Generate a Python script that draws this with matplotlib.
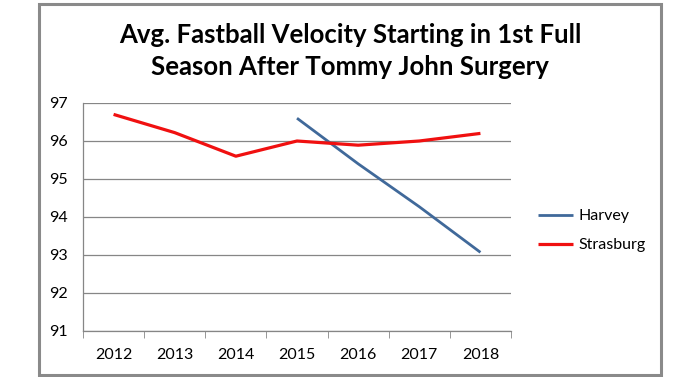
import matplotlib
matplotlib.use("Agg")
import matplotlib.pyplot as plt
from matplotlib.patches import Rectangle

years = ["2012", "2013", "2014", "2015", "2016", "2017", "2018"]
harvey_years = ["2015", "2016", "2017", "2018"]
harvey = [96.6, 95.4, 94.27, 93.07]
strasburg = [96.7, 96.22, 95.6, 96.0, 95.89, 96.0, 96.2]
yticks = [91, 92, 93, 94, 95, 96, 97]
title = "Avg. Fastball Velocity Starting in 1st Full\nSeason After Tommy John Surgery"

plt.rcParams['font.family'] = ['Lato', 'DejaVu Sans']

W, H = 700, 377
fig = plt.figure(figsize=(W/100, H/100), dpi=100)
fig.patch.set_facecolor('white')
fig.patches.append(Rectangle((39/W, 1-375/H), (661-39)/W, (375-4)/H, transform=fig.transFigure,
                             fill=False, edgecolor='#8a8a8a', linewidth=2.2, zorder=10))

ax = fig.add_axes([83/W, 1-331/H, (511-83)/W, (331-103)/H])
x = list(range(len(years)))
hx = [years.index(y) for y in harvey_years]
ax.plot(hx, harvey, color='#40699a', linewidth=2.0, label='Harvey', solid_capstyle='butt')
ax.plot(x, strasburg, color='#f01010', linewidth=2.3, label='Strasburg', solid_capstyle='butt')

ax.set_xlim(-0.5, len(years)-0.5)
ax.set_ylim(91, 97)
ax.set_yticks(yticks)
ax.set_yticklabels([str(v) for v in yticks], fontsize=11.5)
ax.set_xticks(x)
ax.set_xticklabels(years, fontsize=11.5)
ax.set_xticks([i-0.5 for i in range(len(years)+1)], minor=True)
ax.tick_params(axis='x', which='major', length=0, pad=12)
ax.tick_params(axis='x', which='minor', length=5, color='#868686', direction='out')
ax.tick_params(axis='y', which='major', length=0, pad=11)
ax.grid(axis='y', color='#868686', linewidth=0.9)
ax.set_axisbelow(True)
for s in ['top', 'right']:
    ax.spines[s].set_visible(False)
for s in ['left', 'bottom']:
    ax.spines[s].set_color('#868686')
    ax.spines[s].set_linewidth(0.9)

leg = ax.legend(loc='center left', bbox_to_anchor=(1.03, 0.44), frameon=False, fontsize=11.5,
                handlelength=2.2, handletextpad=0.3, labelspacing=0.95)

fig.text(350/W, 1-51/H, title, ha='center', va='center', fontsize=18.5, fontweight='bold',
         linespacing=1.4)

fig.savefig('out.png', dpi=100)
